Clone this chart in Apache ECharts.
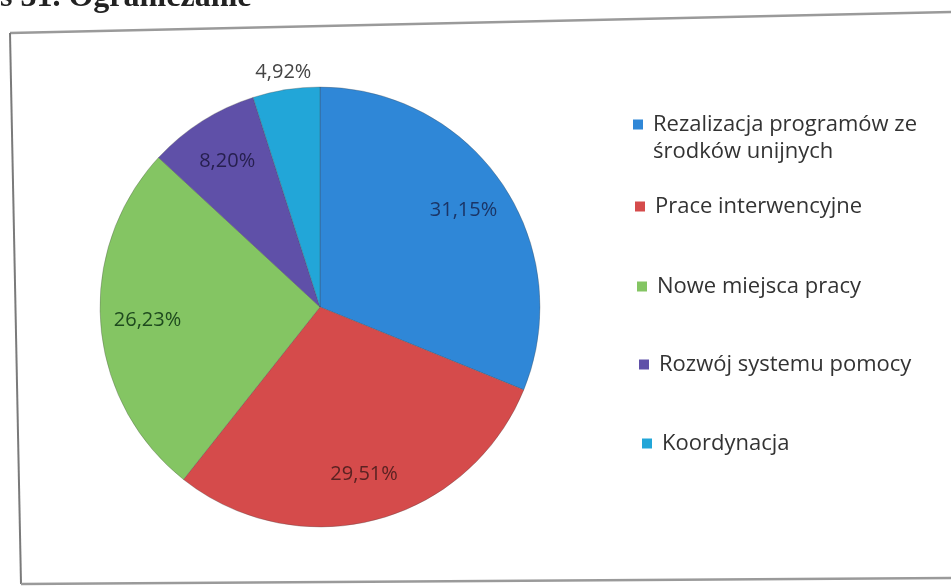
<!DOCTYPE html>
<html>
<head>
<meta charset="utf-8">
<script src="https://cdn.jsdelivr.net/npm/echarts@6/dist/echarts.min.js"></script>
<style>
html,body{margin:0;padding:0;background:#fff;}
#chart{width:951px;height:586px;}
</style>
</head>
<body>
<div id="chart"></div>
<script>
// Data
const categories = [
  'Rezalizacja programów ze\nśrodków unijnych',
  'Prace interwencyjne',
  'Nowe miejsca pracy',
  'Rozwój systemu pomocy',
  'Koordynacja'
];
const values = [19, 18, 16, 5, 3];
const percentLabels = ['31,15%', '29,51%', '26,23%', '8,20%', '4,92%'];
const sliceColors = ['#2f87d7', '#d54b4b', '#84c563', '#5f50a8', '#22a6d8'];
const labelColors = ['#1b3566', '#5a2222', '#1e4a1e', '#261f4e', '#444444'];

const chart = echarts.init(document.getElementById('chart'), null, {renderer: 'canvas'});

const baseData = categories.map((c, i) => ({
  name: c, value: values[i], itemStyle: {color: sliceColors[i]}
}));

const FONT = '"Open Sans", Lato, sans-serif';

// legend positions (one legend component per entry for Excel-like spacing)
const legendTops = [111, 193, 273, 351, 430];
const legendLefts = [633, 635, 637, 639, 642];
// first entry: square drawn at top of a taller icon box so it sits beside the first text line
const topSquareIcon = 'path://M0,0L10,0L10,10L0,10Z M0,37L0,37Z';
const legends = categories.map((c, i) => ({
  orient: 'vertical',
  left: legendLefts[i],
  top: legendTops[i],
  padding: 0,
  icon: i === 0 ? topSquareIcon : 'rect',
  itemWidth: 10,
  itemHeight: i === 0 ? 37 : 10,
  itemStyle: {borderWidth: 0},
  selectedMode: false,
  data: [c],
  textStyle: {
    fontFamily: FONT, fontSize: 22, color: '#333', lineHeight: 27,
    padding: [0, 0, 0, 5]
  }
}));

const option = {
  backgroundColor: '#ffffff',
  animation: false,
  legend: legends,
  graphic: [
    {type: 'text', left: 0, top: -18, style: {text: 's 31. Ograniczanie', font: 'bold 32px "Liberation Serif", serif', fill: '#222'}},
    {type: 'polyline', shape: {points: [[10, 33], [951, 12]]}, style: {stroke: '#9a9a9a', lineWidth: 2.5, fill: null}},
    {type: 'polyline', shape: {points: [[10, 33], [21, 584]]}, style: {stroke: '#7a7a7a', lineWidth: 2, fill: null}},
    {type: 'polyline', shape: {points: [[21, 584], [951, 578]]}, style: {stroke: '#9a9a9a', lineWidth: 2.5, fill: null}}
  ],
  series: [
    {
      type: 'pie',
      center: [320, 307],
      radius: [0, 220],
      startAngle: 90,
      clockwise: true,
      label: {show: false},
      labelLine: {show: false},
      itemStyle: {borderColor: 'rgba(70,70,70,0.3)', borderWidth: 1},
      emphasis: {disabled: true},
      data: baseData
    },
    {
      type: 'pie',
      center: [320, 307],
      radius: [120, 220],
      startAngle: 90,
      clockwise: true,
      silent: true,
      emphasis: {disabled: true},
      labelLine: {show: false},
      data: categories.map((c, i) => ({
        name: c, value: values[i],
        itemStyle: {color: 'rgba(0,0,0,0)'},
        label: {
          show: i < 4, position: 'inside', formatter: percentLabels[i],
          color: labelColors[i], fontFamily: FONT, fontSize: 20
        }
      }))
    },
    {
      type: 'pie',
      center: [320, 307],
      radius: [224, 246],
      startAngle: 90,
      clockwise: true,
      silent: true,
      emphasis: {disabled: true},
      labelLine: {show: false},
      data: categories.map((c, i) => ({
        name: c, value: values[i],
        itemStyle: {color: 'rgba(0,0,0,0)'},
        label: {
          show: i === 4, position: 'inside', formatter: percentLabels[i],
          color: labelColors[i], fontFamily: FONT, fontSize: 20
        }
      }))
    }
  ]
};
chart.setOption(option);
</script>
</body>
</html>
